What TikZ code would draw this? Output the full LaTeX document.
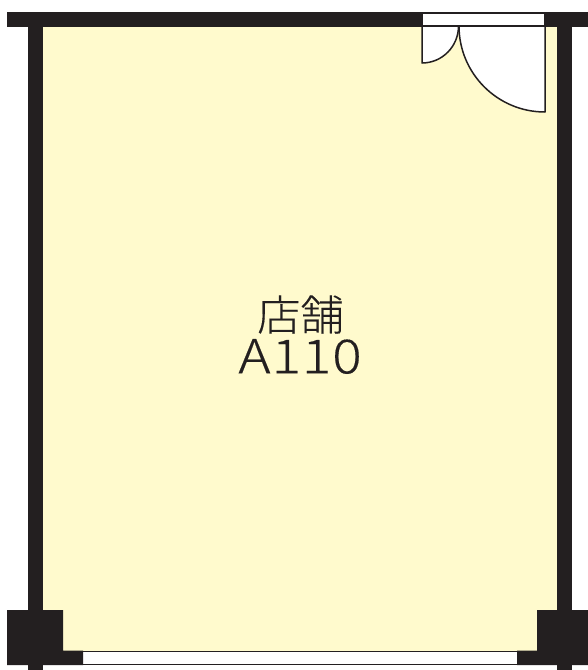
\documentclass[tikz,border=0pt]{standalone}
\usepackage{fontspec}
\newfontfamily\cjkfont[FakeBold=0.3,FakeStretch=1.03]{Noto Sans CJK JP Light}
\newfontfamily\latinfont[LetterSpace=2,FakeStretch=1.17,FakeBold=0.3]{Noto Sans CJK JP Light}
\definecolor{wallc}{HTML}{231F20}
\definecolor{roomc}{HTML}{FFFACD}
\tikzset{
  x=1pt,y=-1pt,
  wall/.style={fill=wallc,draw=none},
  room/.style={fill=roomc,draw=none},
  opening/.style={fill=white,draw=none},
  doorleaf/.style={fill=white,draw=wallc,line width=1.5pt,line join=round},
  roomlabel/.style={text=wallc,align=center,inner sep=0pt}
}
\begin{document}
\begin{tikzpicture}
\useasboundingbox (0,0) rectangle (588,670);
\fill[white] (0,0) rectangle (588,670);
% room
\fill[room] (43,27) rectangle (557,652);
% walls
\fill[wall] (7,12) rectangle (588,27);
\fill[wall] (28,12) rectangle (43,670);
\fill[wall] (557,12) rectangle (572,670);
\fill[wall] (7,610) -- (63,610) -- (63,650.5) -- (83,650.5) -- (83,665) -- (7,665) -- cycle;
\fill[wall] (537,610) -- (588,610) -- (588,665) -- (517,665) -- (517,650.5) -- (537,650.5) -- cycle;
% bottom window
\fill[opening] (84,652.5) rectangle (517,663.5);
\draw[wallc,line width=1pt] (63,651) -- (537,651);
\draw[wallc,line width=1pt] (83,664.5) -- (537,664.5);
% door opening
\fill[opening] (423,13.5) rectangle (544,25);
% door leaves
\draw[doorleaf] (422,26) -- (422,63) .. controls (442.2,63) and (458.5,46.4) .. (458.5,26) -- cycle;
\draw[doorleaf] (545,26) -- (545,112) .. controls (497.5,112) and (459,73.5) .. (459,26) -- cycle;
% label
\node[roomlabel] (roomname) at (300.5,314.5) {\fontsize{42}{42}\selectfont\cjkfont 店舗};
\node[roomlabel] (roomid) at (300,356.5) {\fontsize{47}{47}\selectfont\latinfont A110};
\end{tikzpicture}
\end{document}
